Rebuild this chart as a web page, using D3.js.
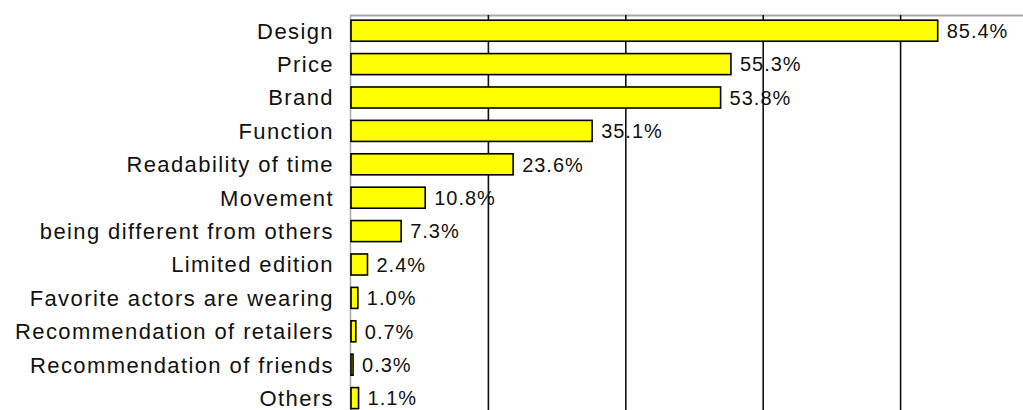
<!doctype html>
<html>
<head>
<meta charset="utf-8">
<title>Reasons for choosing a watch</title>
<script src="https://cdn.jsdelivr.net/npm/d3@7"></script>
<style>
  body { margin: 0; background: #ffffff; }
  svg { display: block; }
</style>
</head>
<body>
<script>
// data
var categories = ["Design", "Price", "Brand", "Function", "Readability of time", "Movement",
                  "being different from others", "Limited edition", "Favorite actors are wearing",
                  "Recommendation of retailers", "Recommendation of friends", "Others"];
var values = [85.4, 55.3, 53.8, 35.1, 23.6, 10.8, 7.3, 2.4, 1.0, 0.7, 0.3, 1.1];
var gridTicks = [20, 40, 60, 80, 100];

var w = 1023, h = 410;
var plotLeft = 351, plotTop = 14, step = 33.4;

var svg = d3.select("body").append("svg")
    .attr("width", w)
    .attr("height", h);

var x = d3.scaleLinear()
    .domain([0, 100])
    .range([plotLeft, plotLeft + 687]);

var y = d3.scaleBand()
    .domain(categories)
    .range([plotTop, plotTop + step * categories.length])
    .paddingInner(0.37)
    .paddingOuter(0.185);

// frame: top border (light grey)
svg.append("line")
    .attr("x1", plotLeft - 1).attr("x2", w)
    .attr("y1", 15.5).attr("y2", 15.5)
    .attr("stroke", "#a8a8a8").attr("stroke-width", 2);

// vertical grid lines
svg.selectAll("line.grid")
    .data(gridTicks)
    .enter()
    .append("line")
    .attr("class", "grid")
    .attr("x1", function(d) { return x(d); })
    .attr("x2", function(d) { return x(d); })
    .attr("y1", 15).attr("y2", h)
    .attr("stroke", "#111").attr("stroke-width", 1.6);

// left axis
svg.append("line")
    .attr("x1", plotLeft - 0.5).attr("x2", plotLeft - 0.5)
    .attr("y1", 15).attr("y2", h)
    .attr("stroke", "#a8a8a8").attr("stroke-width", 1.5);

// bars
svg.selectAll("rect.bar")
    .data(values)
    .enter()
    .append("rect")
    .attr("class", "bar")
    .attr("x", x(0))
    .attr("y", function(d, i) { return y(categories[i]); })
    .attr("width", function(d) { return Math.max(x(d) - x(0), 1); })
    .attr("height", y.bandwidth())
    .attr("fill", "#ffff00")
    .attr("stroke", "#000")
    .attr("stroke-width", 1.6);

// value labels
svg.selectAll("text.val")
    .data(values)
    .enter()
    .append("text")
    .attr("class", "val")
    .text(function(d) { return d.toFixed(1) + "%"; })
    .attr("x", function(d) { return x(d) + 9; })
    .attr("y", function(d, i) { return y(categories[i]) + y.bandwidth() / 2; })
    .attr("dy", "0.36em")
    .attr("font-family", "Liberation Sans, Arial, sans-serif")
    .attr("font-size", "20px")
    .attr("letter-spacing", "1px")
    .attr("fill", "#111");

// category labels
svg.selectAll("text.cat")
    .data(categories)
    .enter()
    .append("text")
    .attr("class", "cat")
    .text(function(d) { return d; })
    .attr("x", 334)
    .attr("y", function(d) { return y(d) + y.bandwidth() / 2; })
    .attr("dy", "0.36em")
    .attr("text-anchor", "end")
    .attr("font-family", "Liberation Sans, Arial, sans-serif")
    .attr("font-size", "22px")
    .attr("letter-spacing", "1.4px")
    .attr("fill", "#111");
</script>
</body>
</html>
